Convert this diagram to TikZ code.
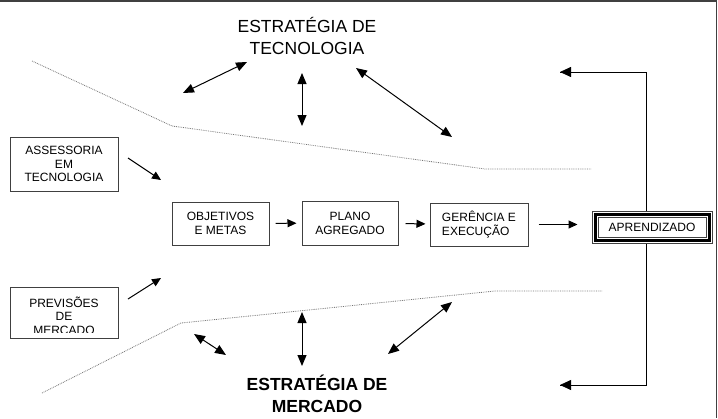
\documentclass[tikz,border=0pt]{standalone}
\usepackage{fontspec}
\setmainfont{Liberation Sans}
\usetikzlibrary{arrows.meta,positioning}

\begin{document}
\begin{tikzpicture}[x=1pt,y=-1pt,
    box/.style={rectangle,draw=black!75,line width=1pt,fill=white,
		align=center,inner sep=2pt,font=\fontsize{12}{13.8}\selectfont},
    title/.style={align=center,font=\fontsize{17.5}{22}\selectfont},
    flow/.style={-{Triangle[length=9pt,width=8pt]},line width=1pt},
    both/.style={{Triangle[length=11pt,width=9pt]}-{Triangle[length=11pt,width=9pt]},line width=1pt},
    edge/.style={densely dotted,black!55,line width=0.8pt}
]
    \useasboundingbox (0,0) rectangle (718,418);
    % frame
    \draw[black!75,line width=1.5pt] (0,0.75) -- (716.25,0.75) -- (716.25,418);

    % titles
    \node (tec) [title] at (307,36) {ESTRATÉGIA DE\\TECNOLOGIA};
    \node (mer) [title,font=\fontsize{17.5}{22}\selectfont\bfseries] at (317,393.5) {ESTRATÉGIA DE\\MERCADO};

    % borders of the funnel
    \draw[edge] (32,61) -- (172,126) -- (485,169) -- (591,169);
    \draw[edge] (42,393) -- (181,323) -- (495,291) -- (602,291);

    % inputs
    \node (ass) [box,minimum width=108pt,minimum height=54pt] at (64,164) {ASSESSORIA\\EM\\TECNOLOGIA};
    \node (prev) [box,minimum width=108pt,minimum height=51pt] at (64,312.5) {};
    \begin{scope}
	\clip (10,290) rectangle (118,332);
	\node [align=center,font=\fontsize{12}{13.5}\selectfont] at (64,315.5) {PREVISÕES\\DE\\MERCADO};
    \end{scope}

    % chain
    \node (obj) [box,minimum width=97pt,minimum height=43pt] at (220.5,223.5) {OBJETIVOS\\E METAS};
    \node (plano) [box,minimum width=96pt,minimum height=44pt] at (350,223) {PLANO\\AGREGADO};
    \node (ger) [box,minimum width=98pt,minimum height=43pt,align=left] at (479,224.5) {GERÊNCIA E\\EXECUÇÃO};

    % feedback
    \coordinate (fbx) at (646,0);
    \coordinate (fbtop) at (560,72);
    \coordinate (fbbot) at (560,385);
    \node (apr) [box,minimum width=120pt,minimum height=32pt] at (652,227.5) {APRENDIZADO};
    \draw[black,line width=3pt] ([shift={(3.5pt,3.5pt)}]apr.south west) rectangle ([shift={(-3.5pt,-3.5pt)}]apr.north east);
    \draw[black!75,line width=0.7pt] ([shift={(6.5pt,6.5pt)}]apr.south west) rectangle ([shift={(-6.5pt,-6.5pt)}]apr.north east);
    \draw[line width=0.8pt] (fbx |- apr.north) |- (fbtop);
    \draw[line width=0.8pt] (fbx |- apr.south) |- (fbbot);
    \draw[-{Triangle[length=11pt,width=10pt]},line width=0.8pt] (fbx |- fbtop) -- (fbtop);
    \draw[-{Triangle[length=11pt,width=10pt]},line width=0.8pt] (fbx |- fbbot) -- (fbbot);

    \draw[flow,shorten <=6pt,shorten >=5pt] (obj) -- (plano);
    \draw[flow,shorten <=7pt,shorten >=4pt] (plano) -- (ger);
    \draw[flow,shorten <=10pt,shorten >=14pt] (ger.east) -- (apr.west |- ger.east);

    % inputs into the chain
    \coordinate (ass1) at (128,158);
    \coordinate (ass2) at (161,180);
    \coordinate (prev1) at (128,299);
    \coordinate (prev2) at (161,278);
    \draw[flow] (ass1) -- (ass2);
    \draw[flow] (prev1) -- (prev2);

    % links with the strategies
    \coordinate (t1a) at (183,93);
    \coordinate (t1b) at (247,62);
    \coordinate (t2a) at (302,73);
    \coordinate (t2b) at (302,126);
    \coordinate (t3a) at (356,68);
    \coordinate (t3b) at (452,137);
    \coordinate (m1a) at (194,334);
    \coordinate (m1b) at (226,355);
    \coordinate (m2a) at (302,312);
    \coordinate (m2b) at (302,366);
    \coordinate (m3a) at (388,354);
    \coordinate (m3b) at (452,302);
    \draw[both] (t1a) -- (t1b);
    \draw[both] (t2a) -- (t2b);
    \draw[both] (t3a) -- (t3b);
    \draw[both] (m1a) -- (m1b);
    \draw[both] (m2a) -- (m2b);
    \draw[both] (m3a) -- (m3b);
\end{tikzpicture}
\end{document}
